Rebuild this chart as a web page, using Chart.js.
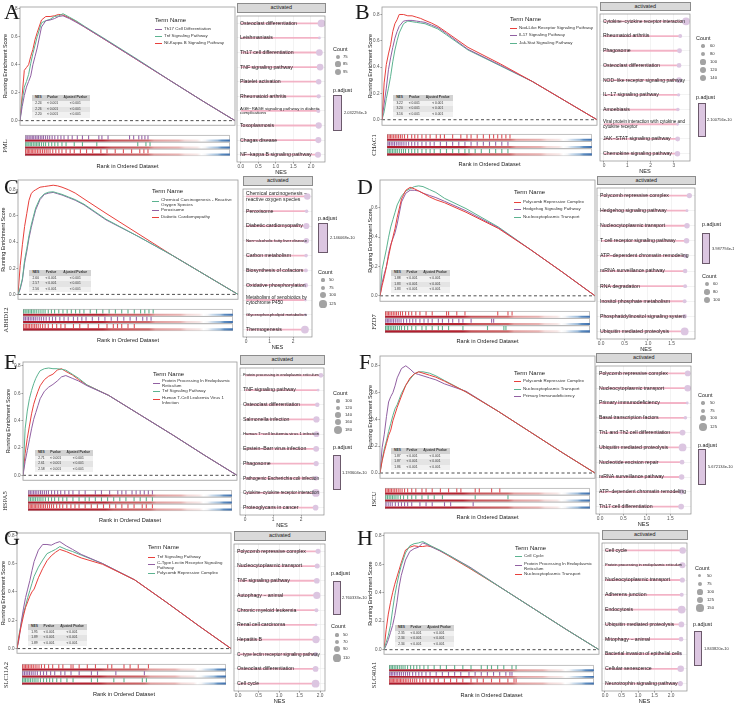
<!DOCTYPE html>
<html>
<head>
<meta charset="utf-8">
<script src="https://cdn.jsdelivr.net/npm/chart.js@4.4.0/dist/chart.umd.min.js"></script>
<style>
  body { margin: 0; width: 734px; height: 704px; position: relative; background: #fff; overflow: hidden;
         font-family: "Liberation Sans", Arial, sans-serif; color: #1a1a1a; }
  .panel { position: absolute; width: 367px; height: 176px; overflow: hidden; }
  .abs { position: absolute; white-space: pre; line-height: 1.15; }
  .letter { position: absolute; font-family: "Liberation Serif", "DejaVu Serif", serif; font-size: 22px; line-height: 1; }
</style>
</head>
<body>
<script>
// --- shared axes ---
const RANK = [0, 1, 2, 3, 4, 5, 6, 7, 8, 10, 12, 14, 16, 18, 20, 23, 26, 30, 40, 55, 70, 85, 100];
const Y_TICKS = [0, 0.2, 0.4, 0.6, 0.8];
const TABLE_HEAD = ['NES', 'Pvalue', 'Ajusted Pvalue'];
const PVAL = '< 0.001';

// --- A: PML ---
const A_gene = 'PML';
const A_sets = ['Th17 Cell Differentiation', 'Tnf Signaling Pathway', 'Nf-Kappa B Signaling Pathway'];
const A_setNes = ['2.24', '2.26', '2.20'];
const A_es1 = [0, 0.10, 0.18, 0.24, 0.28, 0.32, 0.40, 0.46, 0.52, 0.67, 0.715, 0.72, 0.73, 0.745, 0.75, 0.73, 0.705, 0.67, 0.575, 0.43, 0.285, 0.14, 0];
const A_es2 = [0, 0.14, 0.24, 0.28, 0.33, 0.41, 0.48, 0.54, 0.60, 0.70, 0.715, 0.725, 0.745, 0.75, 0.765, 0.74, 0.715, 0.675, 0.58, 0.435, 0.285, 0.14, 0];
const A_es3 = [0, 0.18, 0.36, 0.38, 0.40, 0.46, 0.51, 0.58, 0.63, 0.72, 0.745, 0.745, 0.75, 0.76, 0.755, 0.735, 0.71, 0.67, 0.575, 0.43, 0.285, 0.14, 0];
const A_hits1 = [0.5, 1.3, 2, 2.8, 3.5, 4.2, 5, 5.8, 6.5, 7.4, 8.2, 9, 10, 11, 12, 13.2, 14.5, 16, 17.5, 19, 21, 23, 25.5, 28, 31, 36, 37.5, 40.5, 51, 53, 55.5, 57, 58.5, 60];
const A_hits2 = [0.4, 1, 1.8, 2.5, 3.2, 4, 4.8, 5.5, 6.3, 7, 8, 9, 10, 11.5, 13, 14.5, 16, 18, 20, 24, 28, 35, 55, 59, 61];
const A_hits3 = [0.3, 1, 1.6, 2.3, 3, 3.7, 4.4, 5.2, 6, 6.8, 7.6, 8.5, 9.4, 10.3, 11.2, 12.2, 13.5, 15, 16.5, 18, 20, 22, 24, 27, 30, 33, 37, 40, 44, 48, 52, 56, 58, 60];
const A_terms = ['Osteoclast differentiation', 'Leishmaniasis', 'Th17 cell differentiation', 'TNF signaling pathway', 'Platelet activation', 'Rheumatoid arthritis', 'AGE−RAGE signaling pathway in diabetic\ncomplications', 'Toxoplasmosis', 'Chagas disease', 'NF−kappa B signaling pathway'];
const A_nes = [2.30, 2.24, 2.24, 2.26, 2.22, 2.22, 2.21, 2.22, 2.21, 2.20];
const A_count = [110, 64, 100, 100, 88, 78, 75, 96, 94, 94];
const A_countBreaks = [75, 85, 95];
const A_nesTicks = [0, 0.5, 1, 1.5, 2];
const A_padj = '2.032294e-10';

// --- B: CHAC1 ---
const B_gene = 'CHAC1';
const B_sets = ['Nod-Like Receptor Signaling Pathway', 'Il-17 Signaling Pathway', 'Jak-Stat Signaling Pathway'];
const B_setNes = ['3.22', '3.20', '3.16'];
const B_es1 = [0, 0.28, 0.42, 0.50, 0.57, 0.67, 0.73, 0.76, 0.80, 0.80, 0.79, 0.79, 0.78, 0.77, 0.755, 0.735, 0.71, 0.665, 0.55, 0.425, 0.29, 0.145, 0];
const B_es2 = [0, 0.12, 0.24, 0.38, 0.47, 0.55, 0.62, 0.67, 0.71, 0.75, 0.755, 0.755, 0.75, 0.745, 0.74, 0.72, 0.70, 0.655, 0.535, 0.415, 0.29, 0.145, 0];
const B_es3 = [0, 0.06, 0.16, 0.24, 0.33, 0.44, 0.53, 0.60, 0.66, 0.73, 0.75, 0.745, 0.74, 0.735, 0.73, 0.71, 0.69, 0.645, 0.53, 0.41, 0.29, 0.145, 0];
const B_hits1 = [0.3, 1, 1.7, 2.4, 3.2, 4, 4.8, 5.6, 6.5, 7.4, 8.5, 10, 12, 13.5, 15, 17, 19, 21, 24, 26, 28, 32, 36, 39, 41, 44, 47, 50, 52, 54, 56, 58, 60];
const B_hits2 = [0.5, 1.2, 2, 2.8, 3.6, 4.5, 5.4, 6.3, 7.2, 8.2, 9.3, 10.5, 12, 13.5, 15, 17, 19, 21, 23, 26, 29, 32, 35, 38, 41, 44, 47, 50, 53, 56, 59];
const B_hits3 = [0.4, 1.1, 1.8, 2.6, 3.4, 4.2, 5, 6, 7, 8, 9, 10.5, 12, 13.5, 15, 17, 19, 21, 23, 26, 29, 32, 35, 38, 40, 43, 46, 50, 53, 56, 59];
const B_terms = ['Cytokine−cytokine receptor interaction', 'Rheumatoid arthritis', 'Phagosome', 'Osteoclast differentiation', 'NOD−like receptor signaling pathway', 'IL−17 signaling pathway', 'Amoebiasis', 'Viral protein interaction with cytokine and\ncytokine receptor', 'JAK−STAT signaling pathway', 'Chemokine signaling pathway'];
const B_nes = [3.52, 3.27, 3.24, 3.22, 3.22, 3.20, 3.17, 3.16, 3.16, 3.15];
const B_count = [165, 73, 96, 91, 119, 59, 63, 45, 96, 110];
const B_countBreaks = [60, 80, 100, 120, 140];
const B_nesTicks = [0, 1, 2, 3];
const B_padj = '2.100756e-10';

// --- C: ABHD12 ---
const C_gene = 'ABHD12';
const C_sets = ['Chemical Carcinogenesis - Reactive\nOxygen Species', 'Peroxisome', 'Diabetic Cardiomyopathy'];
const C_setNes = ['2.60', '2.57', '2.56'];
const C_es1 = [0, 0.05, 0.12, 0.26, 0.35, 0.45, 0.53, 0.595, 0.66, 0.735, 0.77, 0.782, 0.785, 0.775, 0.765, 0.745, 0.725, 0.69, 0.575, 0.44, 0.30, 0.15, 0];
const C_es2 = [0, 0.04, 0.11, 0.24, 0.33, 0.43, 0.51, 0.58, 0.645, 0.725, 0.765, 0.775, 0.78, 0.77, 0.76, 0.74, 0.72, 0.685, 0.57, 0.44, 0.30, 0.15, 0];
const C_es3 = [0, 0.22, 0.38, 0.52, 0.62, 0.72, 0.77, 0.79, 0.80, 0.82, 0.825, 0.83, 0.835, 0.83, 0.82, 0.80, 0.775, 0.73, 0.62, 0.46, 0.30, 0.15, 0];
const C_hits1 = [0.3, 1, 1.8, 2.5, 3.3, 4, 4.8, 5.6, 6.5, 7.5, 8.5, 9.5, 10.5, 12, 13.5, 15, 17, 19, 21, 23, 25, 27, 29, 32, 35, 38, 41, 44, 47, 50, 53, 56, 58, 60, 62];
const C_hits2 = [0.4, 1.1, 1.9, 2.6, 3.4, 4.2, 5, 5.8, 6.7, 7.7, 8.7, 9.8, 11, 12.5, 14, 15.5, 17.5, 19.5, 21.5, 24, 26, 28, 30, 33, 36, 39, 42, 45, 48, 51, 54, 57, 59, 61];
const C_hits3 = [0.3, 1, 1.7, 2.4, 3.1, 3.9, 4.7, 5.5, 6.3, 7.2, 8.2, 9.3, 10.5, 12, 14, 16, 18, 20, 24, 27, 31, 36, 40, 43, 45, 47, 50, 53];
const C_terms = ['Chemical carcinogenesis −\nreactive oxygen species', 'Peroxisome', 'Diabetic cardiomyopathy', 'Non−alcoholic fatty liver disease', 'Carbon metabolism', 'Biosynthesis of cofactors', 'Oxidative phosphorylation', 'Metabolism of xenobiotics by\ncytochrome P450', 'Glycerophospholipid metabolism', 'Thermogenesis'];
const C_nes = [2.60, 2.57, 2.56, 2.56, 2.55, 2.54, 2.54, 2.52, 2.52, 2.50];
const C_count = [110, 56, 106, 92, 56, 63, 71, 42, 46, 135];
const C_countBreaks = [50, 75, 100, 125];
const C_nesTicks = [0, 1, 2];
const C_padj = '2.146068e-10';

// --- D: FZD7 ---
const D_gene = 'FZD7';
const D_sets = ['Polycomb Repressive Complex', 'Hedgehog Signaling Pathway', 'Nucleocytoplasmic Transport'];
const D_setNes = ['1.88', '1.83', '1.83'];
const D_es1 = [0, 0.07, 0.13, 0.20, 0.27, 0.34, 0.40, 0.46, 0.535, 0.66, 0.72, 0.74, 0.73, 0.715, 0.70, 0.675, 0.655, 0.635, 0.57, 0.46, 0.315, 0.16, 0];
const D_es2 = [0, 0.09, 0.15, 0.20, 0.29, 0.35, 0.39, 0.43, 0.49, 0.64, 0.70, 0.72, 0.72, 0.715, 0.70, 0.685, 0.67, 0.645, 0.58, 0.465, 0.315, 0.16, 0];
const D_es3 = [0, 0.18, 0.25, 0.32, 0.40, 0.47, 0.52, 0.57, 0.62, 0.68, 0.715, 0.73, 0.745, 0.75, 0.745, 0.725, 0.705, 0.665, 0.595, 0.47, 0.315, 0.16, 0];
const D_hits1 = [0.3, 1, 1.7, 2.4, 3.2, 4, 4.8, 5.6, 6.5, 7.5, 8.5, 10, 11.5, 13, 15, 17, 20, 23, 30, 31, 35, 39, 55, 60, 62];
const D_hits2 = [0.4, 1.1, 1.8, 2.5, 3.3, 4.1, 5, 5.9, 6.8, 7.8, 9, 10.5, 12, 13.5, 15, 17, 19, 21, 23, 26, 28, 31, 33, 36, 38, 42, 52, 53];
const D_hits3 = [0.3, 1, 1.7, 2.5, 3.3, 4.2, 5, 6, 7, 8, 9.5, 11, 13, 15, 18, 20, 23, 26, 28, 31, 38, 50, 58, 59];
const D_terms = ['Polycomb repressive complex', 'Hedgehog signaling pathway', 'Nucleocytoplasmic transport', 'T cell receptor signaling pathway', 'ATP−dependent chromatin remodeling', 'mRNA surveillance pathway', 'RNA degradation', 'Inositol phosphate metabolism', 'Phosphatidylinositol signaling system', 'Ubiquitin mediated proteolysis'];
const D_nes = [1.88, 1.83, 1.83, 1.82, 1.80, 1.79, 1.79, 1.78, 1.78, 1.78];
const D_count = [78, 45, 81, 81, 68, 68, 60, 60, 68, 112];
const D_countBreaks = [60, 80, 100];
const D_nesTicks = [0, 0.5, 1, 1.5];
const D_padj = '3.987794e-10';

// --- E: HSPA5 ---
const E_gene = 'HSPA5';
const E_sets = ['Protein Processing In Endoplasmic\nReticulum', 'Tnf Signaling Pathway', 'Human T-Cell Leukemia Virus 1\nInfection'];
const E_setNes = ['2.71', '2.61', '2.58'];
const E_es1 = [0, 0.10, 0.18, 0.26, 0.34, 0.41, 0.46, 0.51, 0.56, 0.615, 0.645, 0.665, 0.69, 0.72, 0.73, 0.71, 0.69, 0.655, 0.585, 0.44, 0.295, 0.145, 0];
const E_es2 = [0, 0.34, 0.47, 0.56, 0.62, 0.67, 0.71, 0.74, 0.765, 0.78, 0.785, 0.78, 0.78, 0.775, 0.77, 0.74, 0.71, 0.66, 0.585, 0.44, 0.295, 0.145, 0];
const E_es3 = [0, 0.16, 0.27, 0.36, 0.45, 0.52, 0.57, 0.615, 0.655, 0.70, 0.725, 0.74, 0.77, 0.78, 0.76, 0.735, 0.70, 0.66, 0.585, 0.44, 0.295, 0.145, 0];
const E_hits1 = [0.4, 1.1, 1.9, 2.7, 3.5, 4.3, 5.2, 6.1, 7, 8, 9, 10, 11.5, 13, 14.5, 16, 18, 20, 22, 25, 28, 33, 36, 40, 44, 46, 48, 51, 53, 55, 57, 59, 61];
const E_hits2 = [0.4, 1.2, 2, 2.8, 3.6, 4.5, 5.4, 6.3, 7.3, 8.5, 10, 11.5, 13, 15, 17, 19, 22, 25, 28, 30, 33, 36, 39, 42, 45, 48, 52, 55, 58, 61];
const E_hits3 = [0.3, 1, 1.6, 2.3, 3, 3.7, 4.4, 5.2, 6, 6.8, 7.6, 8.5, 9.5, 10.5, 11.5, 12.5, 14, 15.5, 17, 19, 21, 23, 25, 28, 31, 34, 37, 40, 43, 46, 49, 52, 56, 58, 61];
const E_terms = ['Protein processing in endoplasmic reticulum', 'TNF signaling pathway', 'Osteoclast differentiation', 'Salmonella infection', 'Human T−cell leukemia virus 1 infection', 'Epstein−Barr virus infection', 'Phagosome', 'Pathogenic Escherichia coli infection', 'Cytokine−cytokine receptor interaction', 'Proteoglycans in cancer'];
const E_nes = [2.71, 2.61, 2.58, 2.55, 2.55, 2.54, 2.54, 2.53, 2.53, 2.52];
const E_count = [126, 92, 122, 152, 145, 145, 133, 126, 178, 141];
const E_countBreaks = [100, 120, 140, 160, 180];
const E_nesTicks = [0, 1, 2];
const E_padj = '1.193604e-10';

// --- F: ISCU ---
const F_gene = 'ISCU';
const F_sets = ['Polycomb Repressive Complex', 'Nucleocytoplasmic Transport', 'Primary Immunodeficiency'];
const F_setNes = ['1.87', '1.87', '1.86'];
const F_es1 = [0, 0.09, 0.16, 0.22, 0.28, 0.32, 0.39, 0.44, 0.49, 0.575, 0.655, 0.71, 0.74, 0.755, 0.745, 0.73, 0.715, 0.685, 0.605, 0.46, 0.305, 0.15, 0];
const F_es2 = [0, 0.10, 0.18, 0.24, 0.31, 0.37, 0.43, 0.48, 0.51, 0.595, 0.655, 0.70, 0.74, 0.755, 0.755, 0.745, 0.725, 0.69, 0.605, 0.46, 0.305, 0.15, 0];
const F_es3 = [0, 0.19, 0.29, 0.42, 0.53, 0.57, 0.60, 0.65, 0.71, 0.78, 0.80, 0.775, 0.745, 0.735, 0.725, 0.71, 0.695, 0.665, 0.61, 0.46, 0.305, 0.15, 0];
const F_hits1 = [0.3, 1, 1.7, 2.4, 3.1, 3.9, 4.7, 5.5, 6.4, 7.3, 8.3, 9.5, 11, 13, 15, 18, 20, 23, 27, 31, 35, 37, 44, 46, 52, 56];
const F_hits2 = [0.4, 1.2, 2, 2.8, 3.6, 4.4, 5.3, 6.3, 7.5, 9, 11, 13, 15, 18, 21, 24, 28, 44, 60];
const F_hits3 = [0.5, 1.5, 2.5, 3.5, 5, 6.5, 8, 9.5, 11, 13, 17, 20, 23, 29, 32, 43];
const F_terms = ['Polycomb repressive complex', 'Nucleocytoplasmic transport', 'Primary immunodeficiency', 'Basal transcription factors', 'Th1 and Th2 cell differentiation', 'Ubiquitin mediated proteolysis', 'Nucleotide excision repair', 'mRNA surveillance pathway', 'ATP−dependent chromatin remodeling', 'Th17 cell differentiation'];
const F_nes = [1.87, 1.87, 1.86, 1.82, 1.76, 1.76, 1.75, 1.74, 1.74, 1.73];
const F_count = [95, 111, 38, 54, 95, 135, 74, 90, 90, 95];
const F_countBreaks = [50, 75, 100, 125];
const F_nesTicks = [0, 0.5, 1, 1.5];
const F_padj = '5.672134e-10';

// --- G: SLC11A2 ---
const G_gene = 'SLC11A2';
const G_sets = ['Tnf Signaling Pathway', 'C-Type Lectin Receptor Signaling\nPathway', 'Polycomb Repressive Complex'];
const G_setNes = ['1.95', '1.89', '1.89'];
const G_es1 = [0, 0.09, 0.16, 0.23, 0.29, 0.33, 0.37, 0.40, 0.42, 0.50, 0.565, 0.62, 0.655, 0.68, 0.70, 0.685, 0.665, 0.64, 0.595, 0.485, 0.325, 0.16, 0];
const G_es2 = [0, 0.07, 0.19, 0.28, 0.36, 0.42, 0.48, 0.55, 0.615, 0.695, 0.735, 0.735, 0.73, 0.745, 0.755, 0.725, 0.70, 0.665, 0.60, 0.485, 0.325, 0.16, 0];
const G_es3 = [0, 0.10, 0.18, 0.25, 0.30, 0.36, 0.41, 0.46, 0.51, 0.575, 0.625, 0.67, 0.685, 0.70, 0.72, 0.70, 0.685, 0.66, 0.60, 0.485, 0.325, 0.16, 0];
const G_hits1 = [0.3, 1, 1.7, 2.4, 3.1, 3.9, 4.7, 5.5, 6.4, 7.3, 8.3, 9.5, 11, 13, 15, 18, 20, 24, 25, 28, 32, 36, 42, 44, 50, 53, 57, 62];
const G_hits2 = [0.4, 1.2, 2, 2.8, 3.6, 4.5, 5.4, 6.4, 7.5, 9, 10.5, 12, 14, 16, 19, 21, 24, 28, 34, 37, 46, 60];
const G_hits3 = [0.3, 1, 1.7, 2.5, 3.3, 4.1, 5, 5.9, 6.8, 7.8, 9, 10.5, 12, 13.5, 15, 17, 19, 22, 25, 34, 37, 45, 50, 59, 61];
const G_terms = ['Polycomb repressive complex', 'Nucleocytoplasmic transport', 'TNF signaling pathway', 'Autophagy − animal', 'Chronic myeloid leukemia', 'Renal cell carcinoma', 'Hepatitis B', 'C−type lectin receptor signaling pathway', 'Osteoclast differentiation', 'Cell cycle'];
const G_nes = [1.95, 1.93, 1.92, 1.92, 1.91, 1.90, 1.90, 1.89, 1.89, 1.89];
const G_count = [78, 78, 88, 109, 63, 45, 112, 72, 88, 118];
const G_countBreaks = [50, 70, 90, 110];
const G_nesTicks = [0, 0.5, 1, 1.5, 2];
const G_padj = '2.760333e-10';

// --- H: SLC40A1 ---
const H_gene = 'SLC40A1';
const H_sets = ['Cell Cycle', 'Protein Processing In Endoplasmic\nReticulum', 'Nucleocytoplasmic Transport'];
const H_setNes = ['2.35', '2.34', '2.34'];
const H_es1 = [0, 0.05, 0.10, 0.17, 0.28, 0.38, 0.46, 0.53, 0.59, 0.68, 0.73, 0.745, 0.75, 0.76, 0.745, 0.72, 0.70, 0.665, 0.575, 0.43, 0.285, 0.14, 0];
const H_es2 = [0, 0.03, 0.07, 0.12, 0.17, 0.24, 0.33, 0.44, 0.52, 0.63, 0.69, 0.71, 0.72, 0.75, 0.74, 0.715, 0.695, 0.665, 0.58, 0.43, 0.285, 0.14, 0];
const H_es3 = [0, 0.14, 0.25, 0.33, 0.40, 0.46, 0.51, 0.56, 0.61, 0.70, 0.72, 0.73, 0.725, 0.725, 0.73, 0.72, 0.695, 0.66, 0.57, 0.43, 0.285, 0.14, 0];
const H_hits1 = [0.3, 1, 1.7, 2.5, 3.3, 4.1, 5, 5.9, 6.8, 7.8, 9, 10.5, 12, 13.5, 15, 17, 19, 22, 25, 28, 32, 36, 40, 45, 48, 50, 53, 56, 60, 62];
const H_hits2 = [0.4, 1.1, 1.8, 2.6, 3.4, 4.2, 5.1, 6, 7, 8, 9, 10, 11.5, 13, 14.5, 16, 18, 20, 23, 26, 29, 32, 35, 39, 42, 45, 48, 51, 54, 57, 59, 60];
const H_hits3 = [0.3, 0.9, 1.5, 2.1, 2.8, 3.5, 4.2, 4.9, 5.6, 6.3, 7.1, 7.9, 8.7, 9.6, 10.5, 11.5, 12.5, 13.5, 15, 16.5, 18, 20, 22, 24, 27, 30, 33, 36, 40, 43, 46, 50, 54, 58, 61, 62];
const H_terms = ['Cell cycle', 'Protein processing in endoplasmic reticulum', 'Nucleocytoplasmic transport', 'Adherens junction', 'Endocytosis', 'Ubiquitin mediated proteolysis', 'Mitophagy − animal', 'Bacterial invasion of epithelial cells', 'Cellular senescence', 'Neurotrophin signaling pathway'];
const H_nes = [2.35, 2.34, 2.34, 2.32, 2.32, 2.31, 2.30, 2.29, 2.29, 2.28];
const H_count = [135, 125, 100, 75, 165, 115, 90, 45, 135, 100];
const H_countBreaks = [50, 75, 100, 125, 150];
const H_nesTicks = [0, 0.5, 1, 1.5, 2];
const H_padj = '1.843820e-10';

// --- styles ---
const FONT = '"Liberation Sans", Arial, sans-serif';
const RED = '#e8403c', GREEN = '#5cb390', PURPLE = '#9160a2';
const HIT = { [RED]: 'rgba(212,40,48,0.8)', [GREEN]: 'rgba(55,158,110,0.8)', [PURPLE]: 'rgba(125,65,148,0.8)' };
const DOT_FILL = '#dcc6e1', STEM = 'rgba(242,168,190,0.85)';
const HIT_Y = 0.33, HIT_HALF = 0.29, BAND_TOP = 0.64, BAND_BOT = 0.93;
const BAND_STOPS = [[0, '#ae1a2c'], [0.38, '#b42431'], [0.42, '#c65459'], [0.6, '#cd6869'], [0.63, '#e29f9f'],
  [0.75, '#e8b3b2'], [0.78, '#f3d8d7'], [0.84, '#f7e7e6'], [0.86, '#ffffff'], [0.88, '#f5f6f8'],
  [0.9, '#d0dfee'], [0.94, '#9dbcdb'], [0.96, '#5d8dc1'], [1, '#3f6fad']];

// layout of each panel (pixel positions inside its 367x176 cell)
const PANELS = [
  { id: 'A', ox: 0, oy: 0, lx: 4, ly: 1, colors: [PURPLE, GREEN, RED], gene: A_gene, sets: A_sets, setNes: A_setNes,
    es: [A_es1, A_es2, A_es3], hits: [A_hits1, A_hits2, A_hits3], terms: A_terms, nes: A_nes, count: A_count,
    breaks: A_countBreaks, nesTicks: A_nesTicks, padj: A_padj,
    L: 20, R: 235, gTop: 7, gBot: 128, ymin: -0.033, ymax: 0.813, sTop: 130, sBot: 161, rankY: 166, geneX: 5,
    leg: { x: 155, ty: 20, rows: [29, 36, 43] }, tab: { x: 32, y: 95, w: 58, h: 23 },
    dot: { L: 237, R: 325, hTop: 3, hBot: 12, pBot: 162, min: -0.11, max: 2.4, dec: 1 },
    cnt: { x: 333, ty: 49, cx: 338, lx: 343, rows: [57, 64, 72] },
    pad: { x: 333, ty: 90, bx: 333, by: 95, bw: 9, bh: 36, lx: 344 } },
  { id: 'B', ox: 367, oy: 0, lx: 355, ly: 1, colors: [RED, PURPLE, GREEN], gene: B_gene, sets: B_sets, setNes: B_setNes,
    es: [B_es1, B_es2, B_es3], hits: [B_hits1, B_hits2, B_hits3], terms: B_terms, nes: B_nes, count: B_count,
    breaks: B_countBreaks, nesTicks: B_nesTicks, padj: B_padj,
    L: 15, R: 230, gTop: 7, gBot: 128, ymin: -0.042, ymax: 0.857, sTop: 129, sBot: 161, rankY: 164, geneX: 7,
    leg: { x: 143, ty: 19, rows: [28, 35, 43] }, tab: { x: 26, y: 95, w: 60, h: 22 },
    dot: { L: 233, R: 323, hTop: 2, hBot: 10, pBot: 161, min: -0.17, max: 3.69, dec: 0 },
    cnt: { x: 329, ty: 38, cx: 336, lx: 343, rows: [46, 54, 62, 70, 78] },
    pad: { x: 329, ty: 97, bx: 331, by: 103, bw: 8, bh: 34, lx: 340 } },
  { id: 'C', ox: 0, oy: 176, lx: 4, ly: 176, colors: [GREEN, PURPLE, RED], gene: C_gene, sets: C_sets, setNes: C_setNes,
    es: [C_es1, C_es2, C_es3], hits: [C_hits1, C_hits2, C_hits3], terms: C_terms, nes: C_nes, count: C_count,
    breaks: C_countBreaks, nesTicks: C_nesTicks, padj: C_padj,
    L: 18, R: 238, gTop: 4, gBot: 126, ymin: -0.037, ymax: 0.875, sTop: 128, sBot: 160, rankY: 164, geneX: 6,
    leg: { x: 152, ty: 15, rows: [25.5, 34, 41] }, tab: { x: 29, y: 94, w: 62, h: 22 },
    dot: { L: 243, R: 312, hTop: 0, hBot: 9, pBot: 161, min: -0.13, max: 2.8, dec: 0 },
    cnt: { x: 318, ty: 96, cx: 323, lx: 329, rows: [104, 112, 119, 128] },
    pad: { x: 318, ty: 42, bx: 318, by: 47, bw: 10, bh: 30, lx: 330 } },
  { id: 'D', ox: 367, oy: 176, lx: 357, ly: 176, colors: [RED, PURPLE, GREEN], gene: D_gene, sets: D_sets, setNes: D_setNes,
    es: [D_es1, D_es2, D_es3], hits: [D_hits1, D_hits2, D_hits3], terms: D_terms, nes: D_nes, count: D_count,
    breaks: D_countBreaks, nesTicks: D_nesTicks, padj: D_padj,
    L: 13, R: 228, gTop: 4, gBot: 128, ymin: -0.037, ymax: 0.79, sTop: 130, sBot: 162, rankY: 165, geneX: 7,
    leg: { x: 147, ty: 16, rows: [26, 33, 41] }, tab: { x: 24, y: 94, w: 59, h: 23 },
    dot: { L: 230, R: 328, hTop: 0, hBot: 8, pBot: 163, min: -0.085, max: 2.0, dec: 1 },
    cnt: { x: 335, ty: 100, cx: 340, lx: 346, rows: [108, 116, 124] },
    pad: { x: 335, ty: 48, bx: 335, by: 57, bw: 8, bh: 31, lx: 345 } },
  { id: 'E', ox: 0, oy: 352, lx: 4, ly: 351, colors: [PURPLE, GREEN, RED], gene: E_gene, sets: E_sets, setNes: E_setNes,
    es: [E_es1, E_es2, E_es3], hits: [E_hits1, E_hits2, E_hits3], terms: E_terms, nes: E_nes, count: E_count,
    breaks: E_countBreaks, nesTicks: E_nesTicks, padj: E_padj,
    L: 23, R: 237, gTop: 10, gBot: 131, ymin: -0.036, ymax: 0.829, sTop: 133, sBot: 164, rankY: 168, geneX: 5,
    leg: { x: 153, ty: 22, rows: [31, 39, 47.5] }, tab: { x: 35, y: 98, w: 58, h: 22 },
    dot: { L: 240, R: 324, hTop: 3, hBot: 12, pBot: 163, min: -0.18, max: 2.82, dec: 0 },
    cnt: { x: 333, ty: 41, cx: 338, lx: 345, rows: [49, 56, 63, 70, 78] },
    pad: { x: 333, ty: 95, bx: 333, by: 103, bw: 8, bh: 35, lx: 342 } },
  { id: 'F', ox: 367, oy: 352, lx: 359, ly: 351, colors: [RED, GREEN, PURPLE], gene: F_gene, sets: F_sets, setNes: F_setNes,
    es: [F_es1, F_es2, F_es3], hits: [F_hits1, F_hits2, F_hits3], terms: F_terms, nes: F_nes, count: F_count,
    breaks: F_countBreaks, nesTicks: F_nesTicks, padj: F_padj,
    L: 13, R: 228, gTop: 4, gBot: 129, ymin: -0.039, ymax: 0.873, sTop: 131, sBot: 162, rankY: 165, geneX: 7,
    leg: { x: 147, ty: 21, rows: [29, 37, 44] }, tab: { x: 24, y: 96, w: 59, h: 22 },
    dot: { L: 229, R: 324, hTop: 1, hBot: 10, pBot: 162, min: -0.085, max: 1.94, dec: 1 },
    cnt: { x: 331, ty: 43, cx: 336, lx: 343, rows: [51, 59, 66, 75] },
    pad: { x: 331, ty: 93, bx: 331, by: 97, bw: 8, bh: 36, lx: 341 } },
  { id: 'G', ox: 0, oy: 528, lx: 4, ly: 527, colors: [RED, PURPLE, GREEN], gene: G_gene, sets: G_sets, setNes: G_setNes,
    es: [G_es1, G_es2, G_es3], hits: [G_hits1, G_hits2, G_hits3], terms: G_terms, nes: G_nes, count: G_count,
    breaks: G_countBreaks, nesTicks: G_nesTicks, padj: G_padj,
    L: 17, R: 231, gTop: 5, gBot: 128, ymin: -0.033, ymax: 0.816, sTop: 131, sBot: 162, rankY: 166, geneX: 6,
    leg: { x: 148, ty: 19, rows: [29, 36.5, 45] }, tab: { x: 28, y: 96, w: 59, h: 22 },
    dot: { L: 234, R: 325, hTop: 3, hBot: 12, pBot: 163, min: -0.1, max: 2.12, dec: 1 },
    cnt: { x: 331, ty: 98, cx: 337, lx: 343, rows: [107, 114, 121, 130] },
    pad: { x: 331, ty: 45, bx: 333, by: 53, bw: 8, bh: 34, lx: 342 } },
  { id: 'H', ox: 367, oy: 528, lx: 357, ly: 527, colors: [GREEN, PURPLE, RED], gene: H_gene, sets: H_sets, setNes: H_setNes,
    es: [H_es1, H_es2, H_es3], hits: [H_hits1, H_hits2, H_hits3], terms: H_terms, nes: H_nes, count: H_count,
    breaks: H_countBreaks, nesTicks: H_nesTicks, padj: H_padj,
    L: 17, R: 232, gTop: 5, gBot: 129, ymin: -0.032, ymax: 0.82, sTop: 132, sBot: 162, rankY: 167, geneX: 7,
    leg: { x: 148, ty: 20, rows: [28, 37.5, 46] }, tab: { x: 28, y: 97, w: 59, h: 22 },
    dot: { L: 235, R: 320, hTop: 2, hBot: 11, pBot: 163, min: -0.09, max: 2.48, dec: 1 },
    cnt: { x: 328, ty: 40, cx: 333, lx: 340, rows: [48, 56, 64, 72, 80] },
    pad: { x: 326, ty: 96, bx: 327, by: 103, bw: 8, bh: 35, lx: 337 } }
];

Chart.defaults.font.family = FONT;
Chart.defaults.color = '#4d4d4d';
const BASE = { responsive: false, animation: false, events: [],
  plugins: { legend: { display: false }, tooltip: { enabled: false } } };

// --- plugins: frames and labels ---
const boxFrame = {
  id: 'boxFrame',
  afterDraw(chart) {
    const { ctx, chartArea: a } = chart;
    ctx.save();
    ctx.strokeStyle = '#9a9a9a'; ctx.lineWidth = 0.8;
    ctx.strokeRect(a.left, a.top, a.width, a.height);
    ctx.restore();
  }
};

const stripFrames = {
  id: 'stripFrames',
  beforeDatasetsDraw(chart) {
    const { ctx, chartArea: a, scales: { y } } = chart;
    ctx.save();
    ctx.strokeStyle = '#a8a8a8'; ctx.lineWidth = 0.7; ctx.fillStyle = '#fff';
    for (let k = 0; k < 3; k++) {
      const t = y.getPixelForValue(k + 0.03), b = y.getPixelForValue(k + 0.97);
      ctx.fillRect(a.left, t, a.width, b - t);
      ctx.strokeRect(a.left + 0.4, t, a.width - 0.8, b - t);
    }
    ctx.restore();
  }
};

const dotFrame = {
  id: 'dotFrame',
  afterDraw(chart) {
    const { ctx, chartArea: a } = chart;
    ctx.save();
    ctx.strokeStyle = '#8c8c8c'; ctx.lineWidth = 0.7;
    ctx.strokeRect(a.left, a.top, a.width, a.height);
    ctx.restore();
  }
};

const termLabels = {
  id: 'termLabels',
  afterDatasetsDraw(chart) {
    const { ctx, chartArea: a, scales: { y } } = chart;
    const maxW = a.width - 8;
    ctx.save();
    ctx.fillStyle = '#1a1a1a';
    ctx.textBaseline = 'middle';
    chart.data.labels.forEach((lab, i) => {
      const lines = lab.split('\n');
      let size = 5.2;
      ctx.font = size + 'px ' + FONT;
      const w = Math.max(...lines.map(t => ctx.measureText(t).width));
      if (w > maxW) { size = Math.max(3, size * maxW / w); ctx.font = size + 'px ' + FONT; }
      const yc = y.getPixelForValue(i), lh = size * 1.1;
      lines.forEach((t, j) => ctx.fillText(t, a.left + 3, yc + (j - (lines.length - 1) / 2) * lh));
    });
    ctx.restore();
  }
};

function bandGradient(chart) {
  const a = chart.chartArea;
  if (!a) return null;
  const g = chart.ctx.createLinearGradient(a.left, 0, a.right, 0);
  BAND_STOPS.forEach(([t, c]) => g.addColorStop(t, c));
  return g;
}

// --- dom helpers ---
function addCanvas(parent, x, y, w, h) {
  const c = document.createElement('canvas');
  c.width = Math.round(w); c.height = Math.round(h);
  c.style.cssText = `position:absolute;left:${Math.round(x)}px;top:${Math.round(y)}px;`;
  parent.appendChild(c);
  return c;
}

function addText(parent, str, x, y, css) {
  const d = document.createElement('div');
  d.className = 'abs';
  d.textContent = str;
  d.style.cssText += `left:${x}px;top:${y}px;` + (css || '');
  parent.appendChild(d);
  return d;
}

// --- charts ---
function drawGsea(box, p) {
  // the y axis (ticks + title) sits in the space left of the plot box
  const axisW = Math.min(18, p.L), padTop = 4;
  const cv = addCanvas(box, p.L - axisW, p.gTop - padTop, p.R - p.L + axisW + 2, p.gBot - p.gTop + padTop + 1);
  const sets = p.es.map((es, k) => ({
    data: RANK.map((r, i) => ({ x: r, y: es[i] })),
    borderColor: p.colors[k], borderWidth: 1, pointRadius: 0, tension: 0, fill: false
  }));
  sets.push({
    data: [{ x: RANK[0], y: 0 }, { x: RANK[RANK.length - 1], y: 0 }],
    borderColor: '#222', borderWidth: 0.8, borderDash: [3, 2.5], pointRadius: 0, fill: false
  });
  new Chart(cv, {
    type: 'line',
    data: { datasets: sets },
    options: {
      ...BASE,
      layout: { padding: { top: padTop, right: 2, bottom: 1, left: 0 } },
      scales: {
        x: { type: 'linear', min: RANK[0], max: RANK[RANK.length - 1], display: false },
        y: {
          min: p.ymin, max: p.ymax,
          afterBuildTicks: ax => { ax.ticks = Y_TICKS.filter(v => v <= p.ymax).map(v => ({ value: v })); },
          afterFit: ax => { ax.width = axisW; },
          ticks: { font: { size: 4.6 }, color: '#555', padding: 1, callback: v => v.toFixed(1) },
          grid: { drawOnChartArea: false, tickLength: 1.5, color: '#444', lineWidth: 0.6 },
          border: { display: false },
          title: { display: true, text: 'Running Enrichment Score', font: { size: 5.4 }, color: '#1a1a1a', padding: 0 }
        }
      }
    },
    plugins: [boxFrame]
  });
}

function drawStrips(box, p) {
  const cv = addCanvas(box, p.L, p.sTop, p.R - p.L, p.sBot - p.sTop);
  const sets = [];
  p.hits.forEach((hits, k) => {
    sets.push({
      type: 'scatter',
      data: hits.map(r => ({ x: r, y: k + HIT_Y })),
      pointStyle: 'line', pointRotation: 90,
      pointRadius: c => (c.chart.chartArea ? c.chart.chartArea.height / 3 * HIT_HALF : 2.5),
      pointBorderColor: HIT[p.colors[k]], pointBorderWidth: 1.1, pointHitRadius: 0
    });
    sets.push({
      type: 'line', data: [{ x: RANK[0], y: k + BAND_TOP }, { x: RANK[RANK.length - 1], y: k + BAND_TOP }],
      pointRadius: 0, borderWidth: 0, fill: false
    });
    sets.push({
      type: 'line', data: [{ x: RANK[0], y: k + BAND_BOT }, { x: RANK[RANK.length - 1], y: k + BAND_BOT }],
      pointRadius: 0, borderWidth: 0, fill: '-1', backgroundColor: c => bandGradient(c.chart)
    });
  });
  new Chart(cv, {
    type: 'scatter',
    data: { datasets: sets },
    options: {
      ...BASE,
      layout: { padding: 0 },
      scales: {
        x: { type: 'linear', min: RANK[0], max: RANK[RANK.length - 1], display: false },
        y: { type: 'linear', min: 0, max: 3, reverse: true, display: false }
      }
    },
    plugins: [stripFrames]
  });
}

function drawDots(box, p) {
  const d = p.dot, axisH = 14, pad = 6;
  const cv = addCanvas(box, d.L - pad, d.hBot, d.R - d.L + 2 * pad, d.pBot - d.hBot + axisH);
  const rad = countRadius(p.count);
  new Chart(cv, {
    type: 'bar',
    data: {
      labels: p.terms,
      datasets: [
        { type: 'bubble', data: p.terms.map((t, i) => ({ x: p.nes[i], y: t, r: rad(p.count[i]) })),
          backgroundColor: DOT_FILL, borderWidth: 0 },
        { type: 'bar', data: p.nes, backgroundColor: STEM, barThickness: 1.1 }
      ]
    },
    options: {
      ...BASE,
      indexAxis: 'y',
      layout: { padding: { left: pad, right: pad, top: 0, bottom: 0 } },
      scales: {
        x: {
          type: 'linear', min: d.min, max: d.max,
          afterBuildTicks: ax => { ax.ticks = p.nesTicks.map(v => ({ value: v })); },
          afterFit: ax => { ax.height = axisH; },
          ticks: { font: { size: 4.8 }, color: '#555', padding: 0.5, maxRotation: 0, callback: v => v.toFixed(d.dec) },
          grid: { color: '#ebebeb', lineWidth: 0.6, tickColor: '#555', tickLength: 1.5 },
          border: { display: false },
          title: { display: true, text: 'NES', font: { size: 5.6 }, color: '#1a1a1a', padding: 0 }
        },
        y: {
          type: 'category',
          afterFit: ax => { ax.width = 0; },
          ticks: { display: false },
          grid: { color: '#ebebeb', lineWidth: 0.6, offset: false, drawTicks: false },
          border: { display: false }
        }
      }
    },
    plugins: [dotFrame, termLabels]
  });
}

function countRadius(counts) {
  const lo = Math.min(...counts), hi = Math.max(...counts);
  return c => Math.max(1, 1.4 + (c - lo) / (hi - lo) * 2.5);
}

// --- legends, table and labels ---
function drawDecor(box, p) {
  const L = p.leg;
  addText(box, 'Term Name', L.x, L.ty, 'font-size:6px;transform:translateY(-50%);color:#1a1a1a;');
  p.sets.forEach((name, k) => {
    const row = document.createElement('div');
    row.className = 'abs';
    row.style.cssText += `left:${L.x}px;top:${L.rows[k] - 0.5}px;width:7px;height:1px;background:${p.colors[k]};`;
    box.appendChild(row);
    addText(box, name, L.x + 9, L.rows[k], 'font-size:4.4px;transform:translateY(-50%);color:#333;');
  });

  // NES table
  const T = p.tab, rh = T.h / 4, cols = [0.22, 0.27, 0.51];
  const rows = [TABLE_HEAD].concat(p.setNes.map(n => [n, PVAL, PVAL]));
  const bgs = ['#d2d2d2', '#f1f1f1', '#e4e4e4', '#f1f1f1'];
  rows.forEach((r, i) => {
    let x = T.x;
    r.forEach((cell, j) => {
      const w = T.w * cols[j];
      addText(box, cell, x, T.y + i * rh,
        `width:${w}px;height:${rh}px;line-height:${rh}px;font-size:3.3px;text-align:center;background:${bgs[i]};` +
        (i === 0 ? 'font-weight:bold;' : '') + 'color:#333;');
      x += w;
    });
  });

  // rotated gene symbol and x-axis label
  addText(box, p.gene, p.geneX, (p.sTop + p.sBot) / 2,
    'font-family:"Liberation Serif",serif;font-size:6.5px;transform:translate(-50%,-50%) rotate(-90deg);color:#222;');
  addText(box, 'Rank in Ordered Dataset', (p.L + p.R) / 2, p.rankY, 'font-size:5.6px;transform:translate(-50%,-50%);');

  // facet strip header
  const d = p.dot;
  addText(box, 'activated', d.L, d.hTop,
    `width:${d.R - d.L - 1.4}px;height:${d.hBot - d.hTop - 1.4}px;line-height:${d.hBot - d.hTop - 1.4}px;` +
    'font-size:5.4px;text-align:center;background:#d9d9d9;border:0.7px solid #8c8c8c;');

  // Count legend
  const C = p.cnt, rad = countRadius(p.count);
  addText(box, 'Count', C.x, C.ty, 'font-size:5.4px;transform:translateY(-50%);');
  p.breaks.forEach((b, i) => {
    const r = rad(b);
    const dot = document.createElement('div');
    dot.className = 'abs';
    dot.style.cssText += `left:${C.cx - r}px;top:${C.rows[i] - r}px;width:${2 * r}px;height:${2 * r}px;border-radius:50%;background:#a3a3a3;`;
    box.appendChild(dot);
    addText(box, String(b), C.lx, C.rows[i], 'font-size:4.2px;transform:translateY(-50%);color:#333;');
  });

  // p.adjust colour bar
  const P = p.pad;
  addText(box, 'p.adjust', P.x, P.ty, 'font-size:5.4px;transform:translateY(-50%);');
  const bar = document.createElement('div');
  bar.className = 'abs';
  bar.style.cssText += `left:${P.bx}px;top:${P.by}px;width:${P.bw}px;height:${P.bh}px;background:${DOT_FILL};border:0.8px solid #6b596b;box-sizing:border-box;`;
  box.appendChild(bar);
  addText(box, p.padj, P.lx, P.by + P.bh / 2, 'font-size:4px;transform:translateY(-50%);color:#333;');
}

PANELS.forEach(p => {
  const box = document.createElement('div');
  box.className = 'panel';
  box.style.left = p.ox + 'px';
  box.style.top = p.oy + 'px';
  document.body.appendChild(box);
  drawGsea(box, p);
  drawStrips(box, p);
  drawDots(box, p);
  drawDecor(box, p);
  const letter = document.createElement('div');
  letter.className = 'letter';
  letter.textContent = p.id;
  letter.style.left = p.lx + 'px';
  letter.style.top = p.ly + 'px';
  document.body.appendChild(letter);
});
</script>
</body>
</html>
